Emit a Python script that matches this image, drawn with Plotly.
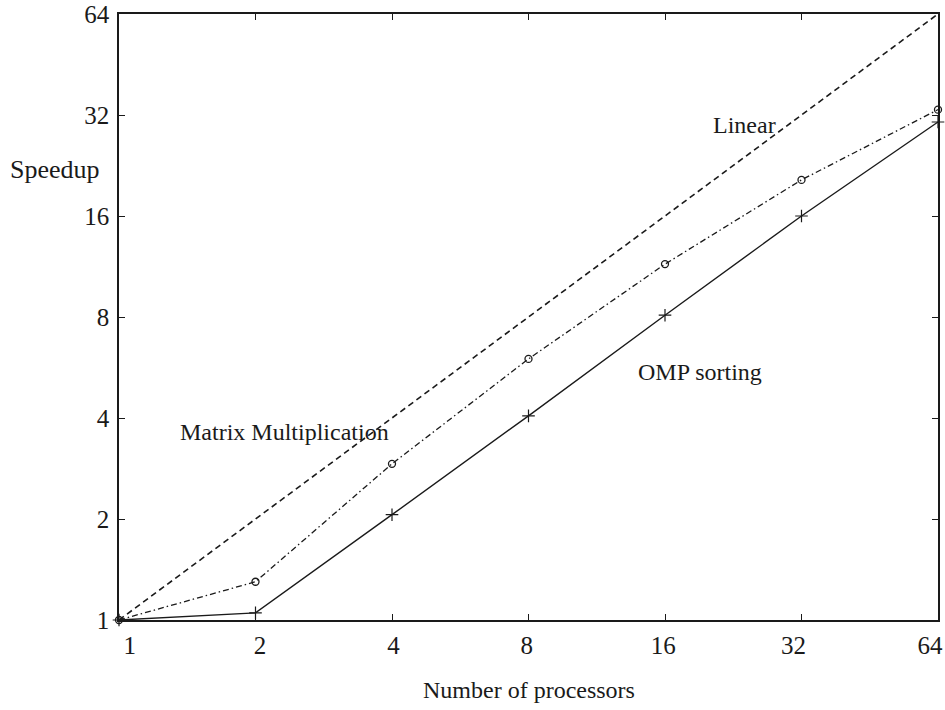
import math
import plotly.graph_objects as go

processors = [1, 2, 4, 8, 16, 32, 64]
linear_speedup = [1, 2, 4, 8, 16, 32, 64]
matrix_speedup = [1, 1.30, 2.92, 6.0, 11.5, 20.5, 33.2]
omp_speedup = [1, 1.05, 2.06, 4.06, 8.1, 16.0, 30.5]
tick_vals = [1, 2, 4, 8, 16, 32, 64]
tick_text = ["1", "2", "4", "8", "16", "32", "64"]

FONT = "Liberation Serif"
INK = "#1a1a1a"
NB = "\u00a0"

# x tick labels are shifted left so "64" fits; leading non-breaking spaces
# bring the other labels back to where the reference places them
x_pad = [6, 4, 3, 2, 2, 0, 0]
x_tick_text = [NB * n + t for n, t in zip(x_pad, tick_text)]

fig = go.Figure()
fig.add_trace(go.Scatter(x=processors, y=linear_speedup, mode="lines",
                         line=dict(color=INK, width=1.6, dash="6px,4px"),
                         showlegend=False))
fig.add_trace(go.Scatter(x=processors, y=matrix_speedup, mode="lines+markers",
                         line=dict(color=INK, width=1.3, dash="6px,3px,1.5px,3px"),
                         marker=dict(symbol="circle-open", size=7, color=INK,
                                     line=dict(width=1.3)),
                         cliponaxis=False, showlegend=False))
fig.add_trace(go.Scatter(x=processors, y=omp_speedup, mode="lines+markers",
                         line=dict(color=INK, width=1.4),
                         marker=dict(symbol="cross-thin-open", size=9, color=INK,
                                     line=dict(width=1.2, color=INK)),
                         cliponaxis=False, showlegend=False))

axis_common = dict(type="log", tickmode="array", tickvals=tick_vals,
                   ticks="inside", ticklen=6, tickwidth=1, tickcolor=INK,
                   showline=True, linecolor=INK, linewidth=1.5, mirror="ticks",
                   showgrid=False, zeroline=False, ticklabeloverflow="allow",
                   tickfont=dict(family=FONT, size=25, color=INK))

fig.update_xaxes(range=[0, math.log10(64)], ticktext=x_tick_text,
                 ticklabelstandoff=2, ticklabelshift=-8, **axis_common)
fig.update_yaxes(range=[0, math.log10(64)], ticktext=tick_text,
                 ticklabelstandoff=3, **axis_common)

ann_font = dict(family=FONT, size=24, color=INK)
fig.update_layout(
    width=945, height=710,
    margin=dict(l=119, r=7, t=14, b=90, autoexpand=False),
    plot_bgcolor="white", paper_bgcolor="white",
    annotations=[
        dict(text="Linear", x=math.log10(24.0), y=math.log10(29.9), xref="x", yref="y",
             showarrow=False, font=ann_font),
        dict(text="Matrix Multiplication", x=math.log10(2.32), y=math.log10(3.63),
             xref="x", yref="y", showarrow=False, font=ann_font),
        dict(text="OMP sorting", x=math.log10(19.1), y=math.log10(5.48),
             xref="x", yref="y", showarrow=False, font=ann_font),
        dict(text="Speedup", x=-0.078, y=0.7426, xref="paper", yref="paper",
             xanchor="center", yanchor="middle",
             showarrow=False, font=dict(family=FONT, size=26, color=INK)),
        dict(text="Number of processors", x=0.501, y=-0.1155, xref="paper", yref="paper",
             xanchor="center", yanchor="middle",
             showarrow=False, font=ann_font),
    ],
)

fig.write_html("out.html", config={"displayModeBar": False},
               post_script="document.body.style.margin='0';")
